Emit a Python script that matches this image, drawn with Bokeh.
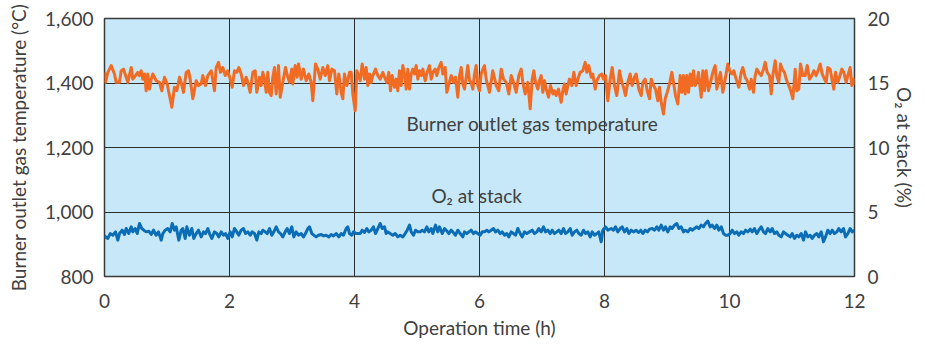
from bokeh.plotting import figure
from bokeh.models import Range1d, LinearAxis, FixedTicker, NumeralTickFormatter, Label
from bokeh.embed import file_html
from bokeh.resources import INLINE

# ---- data ----
x_ticks = [0, 2, 4, 6, 8, 10, 12]
temp_ticks = [800, 1000, 1200, 1400, 1600]
o2_ticks = [0, 5, 10, 15, 20]

t_temp = [0.0, 0.016, 0.053, 0.107, 0.16, 0.187, 0.24, 0.267, 0.304, 0.347, 0.373, 0.427, 0.453, 0.496, 0.533,
          0.56, 0.587, 0.613, 0.64, 0.667, 0.693, 0.72, 0.747, 0.773, 0.827, 0.88, 0.917, 0.96, 1.003, 1.04,
          1.077, 1.12, 1.157, 1.2, 1.227, 1.264, 1.307, 1.344, 1.371, 1.413, 1.467, 1.504, 1.547, 1.573, 1.616,
          1.653, 1.707, 1.76, 1.787, 1.824, 1.856, 1.893, 1.931, 1.973, 2.011, 2.043, 2.08, 2.117, 2.149, 2.187,
          2.224, 2.267, 2.293, 2.331, 2.373, 2.411, 2.437, 2.48, 2.507, 2.533, 2.56, 2.587, 2.613, 2.64, 2.667,
          2.693, 2.72, 2.747, 2.784, 2.811, 2.853, 2.896, 2.933, 2.96, 2.997, 3.013, 3.051, 3.083, 3.104, 3.147,
          3.184, 3.227, 3.269, 3.307, 3.333, 3.376, 3.413, 3.451, 3.493, 3.531, 3.573, 3.6, 3.637, 3.68, 3.717,
          3.749, 3.787, 3.813, 3.84, 3.877, 3.92, 3.947, 3.973, 4.011, 4.037, 4.091, 4.123, 4.16, 4.187, 4.213,
          4.24, 4.267, 4.293, 4.336, 4.373, 4.411, 4.453, 4.48, 4.517, 4.549, 4.576, 4.603, 4.64, 4.667, 4.693,
          4.72, 4.747, 4.773, 4.8, 4.827, 4.853, 4.88, 4.907, 4.933, 4.96, 4.987, 5.013, 5.04, 5.067, 5.093,
          5.131, 5.163, 5.2, 5.227, 5.253, 5.291, 5.317, 5.349, 5.387, 5.413, 5.451, 5.477, 5.504, 5.547, 5.584,
          5.616, 5.653, 5.68, 5.707, 5.733, 5.76, 5.787, 5.813, 5.84, 5.867, 5.893, 5.92, 5.947, 5.973, 6.0,
          6.027, 6.053, 6.08, 6.107, 6.16, 6.213, 6.267, 6.309, 6.347, 6.384, 6.427, 6.469, 6.507, 6.544, 6.587,
          6.629, 6.667, 6.693, 6.731, 6.773, 6.811, 6.843, 6.869, 6.896, 6.933, 6.96, 6.987, 7.013, 7.04, 7.067,
          7.104, 7.136, 7.173, 7.2, 7.227, 7.264, 7.307, 7.333, 7.36, 7.387, 7.413, 7.44, 7.477, 7.509, 7.547,
          7.584, 7.611, 7.653, 7.691, 7.717, 7.749, 7.787, 7.813, 7.851, 7.877, 7.92, 7.957, 7.984, 8.016, 8.053,
          8.091, 8.123, 8.16, 8.197, 8.24, 8.277, 8.304, 8.336, 8.373, 8.411, 8.443, 8.48, 8.507, 8.549, 8.587,
          8.613, 8.651, 8.683, 8.72, 8.747, 8.784, 8.816, 8.853, 8.88, 8.907, 8.944, 8.971, 9.003, 9.04, 9.077,
          9.104, 9.136, 9.173, 9.211, 9.237, 9.264, 9.291, 9.317, 9.344, 9.371, 9.397, 9.424, 9.451, 9.477, 9.504,
          9.547, 9.573, 9.6, 9.627, 9.664, 9.696, 9.733, 9.771, 9.797, 9.829, 9.856, 9.893, 9.931, 9.973, 10.011,
          10.043, 10.069, 10.107, 10.149, 10.187, 10.213, 10.251, 10.283, 10.32, 10.347, 10.384, 10.411, 10.437,
          10.469, 10.507, 10.544, 10.571, 10.603, 10.64, 10.667, 10.693, 10.731, 10.757, 10.789, 10.816, 10.843,
          10.88, 10.907, 10.949, 10.987, 11.013, 11.051, 11.077, 11.109, 11.136, 11.173, 11.211, 11.243, 11.28,
          11.317, 11.349, 11.387, 11.424, 11.451, 11.483, 11.52, 11.547, 11.573, 11.611, 11.643, 11.669, 11.696,
          11.733, 11.76, 11.797, 11.829, 11.867, 11.893, 11.931, 11.957, 11.989, 12.0]
temp = [1433, 1402, 1433, 1454, 1428, 1402, 1402, 1438, 1443, 1418, 1402, 1448, 1412, 1423, 1433,
        1423, 1438, 1412, 1428, 1376, 1428, 1381, 1412, 1428, 1407, 1402, 1376, 1418, 1397, 1361,
        1325, 1387, 1376, 1418, 1402, 1371, 1433, 1438, 1412, 1351, 1407, 1392, 1397, 1423, 1392,
        1423, 1438, 1376, 1448, 1464, 1433, 1448, 1423, 1438, 1412, 1387, 1438, 1433, 1448, 1428,
        1392, 1418, 1402, 1371, 1433, 1438, 1371, 1418, 1392, 1433, 1412, 1371, 1433, 1371, 1361,
        1418, 1448, 1366, 1454, 1356, 1402, 1448, 1418, 1402, 1443, 1397, 1454, 1418, 1459, 1412,
        1443, 1407, 1428, 1402, 1345, 1459, 1443, 1412, 1448, 1423, 1454, 1407, 1443, 1438, 1366,
        1428, 1371, 1351, 1428, 1392, 1433, 1433, 1366, 1314, 1438, 1407, 1459, 1412, 1448, 1392,
        1428, 1402, 1423, 1443, 1423, 1412, 1433, 1418, 1402, 1433, 1376, 1423, 1387, 1412, 1376,
        1438, 1392, 1454, 1428, 1381, 1443, 1381, 1428, 1443, 1428, 1454, 1412, 1438, 1423, 1443,
        1407, 1433, 1454, 1412, 1433, 1443, 1423, 1448, 1464, 1428, 1448, 1371, 1392, 1423, 1402,
        1418, 1356, 1423, 1448, 1397, 1381, 1418, 1454, 1407, 1402, 1381, 1428, 1454, 1392, 1376,
        1428, 1443, 1454, 1412, 1371, 1438, 1392, 1376, 1443, 1412, 1402, 1366, 1423, 1402, 1371,
        1423, 1443, 1402, 1366, 1402, 1320, 1412, 1438, 1402, 1381, 1407, 1423, 1371, 1407, 1381,
        1356, 1392, 1366, 1376, 1361, 1381, 1340, 1376, 1397, 1366, 1392, 1412, 1392, 1433, 1392,
        1418, 1433, 1438, 1464, 1433, 1454, 1418, 1428, 1381, 1407, 1423, 1428, 1412, 1423, 1345,
        1412, 1448, 1392, 1361, 1438, 1402, 1387, 1361, 1402, 1428, 1392, 1418, 1428, 1381, 1361,
        1402, 1412, 1376, 1351, 1412, 1392, 1381, 1345, 1387, 1340, 1304, 1351, 1371, 1397, 1433,
        1402, 1361, 1335, 1423, 1371, 1423, 1366, 1423, 1371, 1428, 1392, 1438, 1392, 1402, 1433,
        1356, 1438, 1376, 1438, 1376, 1402, 1433, 1454, 1381, 1412, 1433, 1371, 1412, 1459, 1433,
        1428, 1438, 1412, 1387, 1433, 1448, 1418, 1407, 1381, 1412, 1371, 1423, 1443,
        1433, 1423, 1443, 1464, 1433, 1423, 1366, 1423, 1469, 1423, 1402, 1459, 1443,
        1433, 1412, 1392, 1371, 1351, 1443, 1376, 1381, 1459, 1423, 1423, 1454, 1412,
        1423, 1438, 1423, 1443, 1459, 1428, 1412, 1402, 1448, 1443, 1407, 1381, 1433,
        1402, 1418, 1443, 1433, 1402, 1423, 1448, 1392, 1412, 1395]

t_o2 = [0.0, 0.016, 0.053, 0.091, 0.133, 0.176, 0.213, 0.24, 0.283, 0.32, 0.347, 0.389, 0.427, 0.453, 0.491,
        0.523, 0.56, 0.597, 0.629, 0.667, 0.709, 0.747, 0.784, 0.827, 0.864, 0.907, 0.933, 0.971, 1.013, 1.051,
        1.083, 1.12, 1.147, 1.189, 1.227, 1.253, 1.291, 1.317, 1.36, 1.397, 1.429, 1.467, 1.504, 1.547, 1.584,
        1.616, 1.653, 1.68, 1.717, 1.76, 1.797, 1.829, 1.867, 1.904, 1.936, 1.973, 2.011, 2.043, 2.08, 2.117,
        2.149, 2.187, 2.224, 2.256, 2.293, 2.331, 2.363, 2.4, 2.437, 2.469, 2.507, 2.533, 2.571, 2.603, 2.64,
        2.677, 2.709, 2.747, 2.784, 2.816, 2.853, 2.891, 2.923, 2.96, 2.997, 3.029, 3.067, 3.104, 3.147, 3.184,
        3.216, 3.253, 3.28, 3.317, 3.349, 3.387, 3.424, 3.467, 3.504, 3.547, 3.589, 3.627, 3.664, 3.707, 3.749,
        3.787, 3.824, 3.867, 3.893, 3.92, 3.957, 3.984, 4.027, 4.091, 4.123, 4.16, 4.197, 4.229, 4.267, 4.304,
        4.336, 4.373, 4.411, 4.443, 4.48, 4.507, 4.533, 4.571, 4.613, 4.651, 4.693, 4.731, 4.773, 4.811, 4.843,
        4.88, 4.907, 4.944, 4.976, 5.013, 5.051, 5.083, 5.12, 5.157, 5.189, 5.227, 5.253, 5.296, 5.333, 5.36,
        5.403, 5.44, 5.467, 5.509, 5.547, 5.573, 5.616, 5.653, 5.691, 5.733, 5.76, 5.797, 5.829, 5.867, 5.904,
        5.936, 5.973, 6.011, 6.043, 6.08, 6.117, 6.149, 6.187, 6.224, 6.256, 6.293, 6.331, 6.363, 6.4, 6.437,
        6.469, 6.507, 6.544, 6.576, 6.613, 6.651, 6.683, 6.72, 6.757, 6.8, 6.843, 6.88, 6.917, 6.949, 6.987,
        7.024, 7.056, 7.093, 7.131, 7.163, 7.2, 7.237, 7.269, 7.307, 7.344, 7.376, 7.413, 7.451, 7.483, 7.52,
        7.557, 7.589, 7.627, 7.664, 7.696, 7.733, 7.771, 7.803, 7.84, 7.877, 7.909, 7.947, 7.973, 8.016, 8.053,
        8.107, 8.144, 8.176, 8.213, 8.251, 8.283, 8.32, 8.357, 8.389, 8.427, 8.464, 8.507, 8.544, 8.581, 8.613,
        8.651, 8.688, 8.72, 8.763, 8.8, 8.837, 8.869, 8.907, 8.944, 8.976, 9.013, 9.051, 9.083, 9.12, 9.157,
        9.189, 9.227, 9.264, 9.296, 9.333, 9.371, 9.403, 9.44, 9.477, 9.509, 9.547, 9.584, 9.616, 9.653, 9.691,
        9.723, 9.76, 9.797, 9.829, 9.867, 9.904, 9.936, 9.973, 10.011, 10.043, 10.08, 10.117, 10.149, 10.187,
        10.224, 10.256, 10.293, 10.331, 10.363, 10.4, 10.437, 10.469, 10.507, 10.544, 10.576, 10.613, 10.651,
        10.683, 10.72, 10.757, 10.789, 10.827, 10.864, 10.896, 10.933, 10.971, 11.003, 11.04, 11.077, 11.109,
        11.147, 11.184, 11.216, 11.253, 11.291, 11.323, 11.36, 11.397, 11.429, 11.467, 11.504, 11.536, 11.573,
        11.611, 11.643, 11.68, 11.717, 11.749, 11.787, 11.824, 11.856, 11.893, 11.931, 11.963, 12.0]
o2 = [3.20, 3.07, 2.95, 3.33, 3.20, 3.46, 2.82, 3.33, 3.59, 3.26, 3.72, 3.33, 3.85, 3.46, 3.72,
      3.33, 4.11, 3.72, 3.59, 3.46, 3.51, 3.26, 3.59, 3.20, 3.46, 2.82, 3.33, 3.59, 3.72, 3.46,
      4.11, 3.59, 3.85, 2.82, 3.59, 3.72, 2.95, 3.85, 3.20, 3.72, 2.95, 3.33, 3.59, 3.07, 3.46,
      3.33, 3.72, 3.33, 2.95, 3.46, 3.33, 3.07, 3.46, 3.20, 3.33, 2.95, 3.46, 3.07, 3.72, 3.46,
      3.20, 3.59, 3.72, 3.33, 3.46, 3.20, 3.46, 3.33, 2.82, 3.46, 3.33, 3.59, 3.46, 3.33, 3.72,
      3.20, 3.46, 3.85, 3.46, 3.33, 3.07, 3.46, 3.72, 3.33, 3.85, 3.07, 3.46, 3.20, 3.33, 3.07,
      3.33, 3.72, 3.85, 3.33, 3.20, 3.07, 3.20, 3.26, 3.15, 3.20, 3.07, 3.26, 3.15, 3.33, 3.07,
      3.33, 3.20, 3.72, 3.85, 3.33, 3.20, 3.46, 3.33, 3.33, 3.59, 3.41, 3.72, 3.46, 3.59, 3.85,
      3.33, 3.72, 4.11, 3.72, 3.85, 3.33, 3.46, 3.33, 3.20, 3.33, 3.07, 3.20, 3.07, 3.33, 3.59,
      3.98, 3.46, 3.20, 3.59, 3.46, 3.46, 3.59, 3.46, 3.85, 3.46, 3.72, 3.33, 3.98, 3.46, 3.85,
      3.33, 3.72, 3.59, 3.33, 3.59, 3.46, 3.20, 3.59, 3.33, 3.07, 3.46, 3.33, 3.46, 3.59, 3.33,
      3.46, 3.33, 3.20, 3.46, 3.46, 3.59, 3.46, 3.59, 3.72, 3.46, 3.59, 3.33, 3.46, 3.20, 3.33,
      3.07, 3.46, 3.33, 3.20, 3.72, 3.33, 3.07, 3.46, 3.33, 3.46, 3.59, 3.33, 3.46, 3.72, 3.46,
      3.85, 3.46, 3.59, 3.33, 3.59, 3.33, 3.46, 3.59, 3.33, 3.72, 3.33, 3.46, 3.72, 3.20, 3.46,
      3.59, 3.33, 3.20, 3.59, 3.33, 3.46, 3.07, 3.46, 3.20, 3.33, 3.46, 2.69, 3.59, 3.85, 3.59,
      3.72, 3.59, 3.85, 3.46, 3.72, 3.85, 3.46, 3.72, 3.33, 3.59, 3.46, 3.59, 3.41, 3.59, 3.33,
      3.59, 3.46, 3.67, 3.72, 3.59, 3.85, 3.59, 3.98, 3.59, 3.85, 3.46, 3.85, 3.72, 3.98, 4.11,
      3.72, 3.85, 3.46, 3.59, 3.46, 3.72, 3.59, 3.72, 3.85, 3.72, 3.98, 3.85, 4.11, 4.29, 3.85,
      3.98, 3.72, 3.98, 3.59, 3.85, 3.33, 3.20, 3.20, 3.33, 3.59, 3.33, 3.46, 3.20, 3.46,
      3.33, 3.59, 3.46, 3.67, 3.46, 3.72, 3.33, 3.59, 3.85, 3.46, 3.33, 3.72, 3.46,
      3.72, 3.33, 3.46, 3.20, 3.07, 3.46, 3.33, 3.20, 3.07, 3.33, 2.95, 3.20, 3.07,
      3.33, 2.82, 3.46, 3.07, 3.20, 2.95, 3.20, 3.33, 3.07, 3.46, 2.69, 3.07, 3.59,
      3.33, 3.59, 3.33, 3.46, 3.72, 3.46, 3.72, 3.07, 3.33, 3.72, 3.46, 3.59]

label_temp = "Burner outlet gas temperature"
label_o2 = "O\u2082 at stack"

FONT = "Lato"
TXT = "#404040"

p = figure(width=918, height=344, output_backend="svg", toolbar_location=None,
           x_range=Range1d(0, 12), y_range=Range1d(800, 1600),
           min_border_left=104, min_border_right=60, min_border_top=18, min_border_bottom=68,
           border_fill_color="white")
p.background_fill_color = "#c7e8f8"
p.outline_line_color = "#3a3a3a"
p.outline_line_width = 1.5

p.extra_y_ranges = {"o2": Range1d(0, 20)}

p.line(t_temp, temp, color="#f26b22", line_width=3, line_join="round")
p.line(t_o2, o2, color="#0a6db5", line_width=3, line_join="round", y_range_name="o2")

# axes
p.xaxis.ticker = FixedTicker(ticks=x_ticks)
p.yaxis.ticker = FixedTicker(ticks=temp_ticks)
p.yaxis.formatter = NumeralTickFormatter(format="0,0")
p.xaxis.axis_label = "Operation time (h)"
p.yaxis.axis_label = "Burner outlet gas temperature (\u00b0C)"

ax_r = LinearAxis(y_range_name="o2", ticker=FixedTicker(ticks=o2_ticks), axis_label="O\u2082 at stack (%)")
p.add_layout(ax_r, "right")

for ax in [p.xaxis[0], p.yaxis[0], ax_r]:
    ax.axis_line_color = None
    ax.major_tick_line_color = None
    ax.minor_tick_line_color = None
    ax.major_tick_out = 0
    ax.major_tick_in = 0
    ax.major_label_text_font = FONT
    ax.major_label_text_font_size = "19px"
    ax.major_label_text_color = TXT
    ax.axis_label_text_font = FONT
    ax.axis_label_text_font_size = "19px"
    ax.axis_label_text_font_style = "normal"
    ax.axis_label_text_color = TXT

p.yaxis[0].major_label_standoff = 11
p.yaxis[0].axis_label_standoff = 12
ax_r.major_label_standoff = 13
ax_r.axis_label_standoff = 0
p.xaxis[0].major_label_standoff = 17
p.xaxis[0].axis_label_standoff = 5

p.xgrid.ticker = FixedTicker(ticks=x_ticks)
p.ygrid.ticker = FixedTicker(ticks=temp_ticks)
for g in [p.xgrid[0], p.ygrid[0]]:
    g.grid_line_color = "#2e2e2e"
    g.grid_line_width = 1

p.add_layout(Label(x=4.83, y=1274, text=label_temp, text_font=FONT, text_font_size="19px",
                   text_color=TXT, text_baseline="middle", text_align="left"))
p.add_layout(Label(x=5.23, y=1051, text=label_o2, text_font=FONT, text_font_size="19px",
                   text_color=TXT, text_baseline="middle", text_align="left"))

open("out.html", "w").write(file_html(p, INLINE))
